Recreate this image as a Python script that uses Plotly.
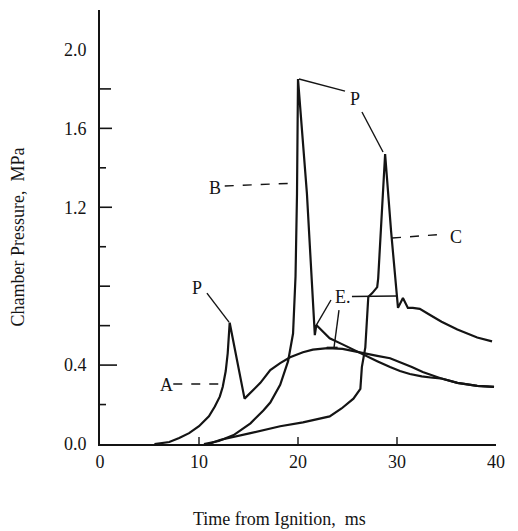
import plotly.graph_objects as go

# Chamber pressure histories (time in ms, pressure in MPa)
a_time = [5.5, 7.0, 8.0, 9.0, 10.0, 11.0, 11.6, 12.1, 12.4, 12.7, 12.9, 13.1,
          14.6, 15.2, 16.2, 17.2, 18.2, 19.2, 20.5, 21.5, 23.0, 24.5, 26.5,
          28.0, 29.3, 30.3, 31.5, 32.6, 34.4, 36.1, 38.1, 39.8]
a_press = [0.0, 0.01, 0.03, 0.055, 0.09, 0.14, 0.19, 0.24, 0.29, 0.37, 0.46, 0.615,
           0.23, 0.26, 0.31, 0.375, 0.41, 0.44, 0.465, 0.478, 0.486, 0.482, 0.46,
           0.447, 0.435, 0.415, 0.39, 0.365, 0.333, 0.31, 0.295, 0.29]

b_time = [10.5, 12.0, 13.5, 15.2, 16.5, 17.2, 18.2, 19.0, 19.5, 19.75, 19.9, 20.0,
          20.9, 21.7, 21.85, 23.2, 24.5, 26.5, 28.0, 29.3, 30.3, 31.3, 32.5,
          33.6, 34.4, 36.1, 38.1, 39.8]
b_press = [0.0, 0.015, 0.045, 0.105, 0.17, 0.21, 0.30, 0.42, 0.56, 0.85, 1.27, 1.85,
           1.27, 0.552, 0.603, 0.536, 0.505, 0.455, 0.42, 0.39, 0.37, 0.355, 0.343,
           0.336, 0.333, 0.31, 0.295, 0.29]

c_time = [11.0, 12.1, 15.2, 18.2, 20.5, 23.2, 24.4, 25.6, 26.3, 26.45, 26.8, 27.1,
          27.5, 28.0, 28.1, 28.8, 29.4, 29.95, 30.1, 30.6, 31.1, 31.6, 32.3,
          33.3, 34.5, 36.1, 38.1, 39.6]
c_press = [0.0, 0.02, 0.055, 0.09, 0.11, 0.14, 0.18, 0.23, 0.28, 0.39, 0.49, 0.745,
           0.765, 0.795, 0.84, 1.47, 1.08, 0.75, 0.69, 0.74, 0.69, 0.69, 0.685,
           0.655, 0.62, 0.58, 0.54, 0.52]

x_ticks = [0, 10, 20, 30, 40]
x_tick_text = ["0", "10", "20", "30", "40"]
y_ticks = [0.0, 0.4, 1.2, 1.6, 2.0]
y_tick_text = ["0.0", "0.4", "1.2", "1.6", "2.0"]
y_marks = [0.2, 0.4, 0.6, 0.8, 1.0, 1.2, 1.4, 1.6, 1.8]
x_marks = [10, 20, 30]

INK = "#141414"
SERIF = "Liberation Serif, Times New Roman, serif"

fig = go.Figure()
for t, p, name in [(a_time, a_press, "A"), (b_time, b_press, "B"), (c_time, c_press, "C")]:
    fig.add_trace(go.Scatter(x=t, y=p, mode="lines", name=name,
                             line=dict(color=INK, width=2.2), hoverinfo="skip"))

shapes = []

# inward tick marks on the pressure axis (longer at labelled values)
long_marks = {0.4: 17, 1.2: 12, 1.6: 12, 1.8: 11, 0.6: 10, 0.8: 10}
for v in y_marks:
    ln = long_marks.get(v, 6)
    shapes.append(dict(type="line", xref="x domain", yref="y", x0=0, x1=ln / 396,
                       y0=v, y1=v, line=dict(color=INK, width=1.6)))
for v in x_marks:
    shapes.append(dict(type="line", xref="x", yref="y domain", x0=v, x1=v,
                       y0=0, y1=7 / 434, line=dict(color=INK, width=1.4)))

def seg(x0, y0, x1, y1, dash="solid", width=1.4):
    shapes.append(dict(type="line", xref="x", yref="y", x0=x0, y0=y0, x1=x1, y1=y1,
                       line=dict(color=INK, width=width, dash=dash)))

# dashed leaders for curve names
seg(7.4, 0.304, 12.42, 0.304, dash="dash")
seg(12.6, 1.308, 20.0, 1.323, dash="dash")
seg(29.5, 1.044, 34.85, 1.064, dash="dash")
# peak pointers
seg(10.8, 0.765, 13.03, 0.618)
seg(20.1, 1.85, 24.75, 1.789)
seg(26.46, 1.683, 28.59, 1.48)
# E pointers
seg(23.33, 0.73, 21.85, 0.603)
seg(24.14, 0.679, 23.64, 0.49)
seg(22.9, 0.49, 24.0, 0.49)
seg(25.45, 0.748, 30.0, 0.75)

labels = [
    ("A", 6.75, 0.30),
    ("B", 11.6, 1.30),
    ("C", 35.95, 1.05),
    ("P", 9.8, 0.79),
    ("P", 25.75, 1.75),
    ("E.", 24.5, 0.745),
]
annotations = [dict(x=x, y=y, xref="x", yref="y", text=t, showarrow=False,
                    font=dict(family=SERIF, size=18, color=INK))
               for t, x, y in labels]

annotations.append(dict(x=0.4545, y=-0.1728, xref="paper", yref="paper",
                        text="Time from Ignition,\u00a0\u00a0ms", showarrow=False,
                        xanchor="center", yanchor="middle",
                        font=dict(family=SERIF, size=18, color=INK)))
annotations.append(dict(x=-0.2083, y=0.477, xref="paper", yref="paper",
                        text="Chamber Pressure,\u00a0\u00a0MPa", showarrow=False,
                        textangle=-90, xanchor="center", yanchor="middle",
                        font=dict(family=SERIF, size=18, color=INK)))

fig.update_layout(
    width=518, height=531,
    margin=dict(l=100, r=22, t=10, b=87),
    paper_bgcolor="white", plot_bgcolor="white",
    showlegend=False,
    shapes=shapes,
    annotations=annotations,
    xaxis=dict(range=[0, 40], tickvals=x_ticks, ticktext=x_tick_text, ticks="",
               showgrid=False, zeroline=False, showline=True, linecolor=INK,
               linewidth=2, ticklabelstandoff=0,
               tickfont=dict(family=SERIF, size=18, color=INK)),
    yaxis=dict(range=[0, 2.2], tickvals=y_ticks, ticktext=y_tick_text, ticks="",
               showgrid=False, zeroline=False, showline=True, linecolor=INK,
               linewidth=2, ticklabelstandoff=8,
               tickfont=dict(family=SERIF, size=18, color=INK)),
)

fig.write_html("out.html")
